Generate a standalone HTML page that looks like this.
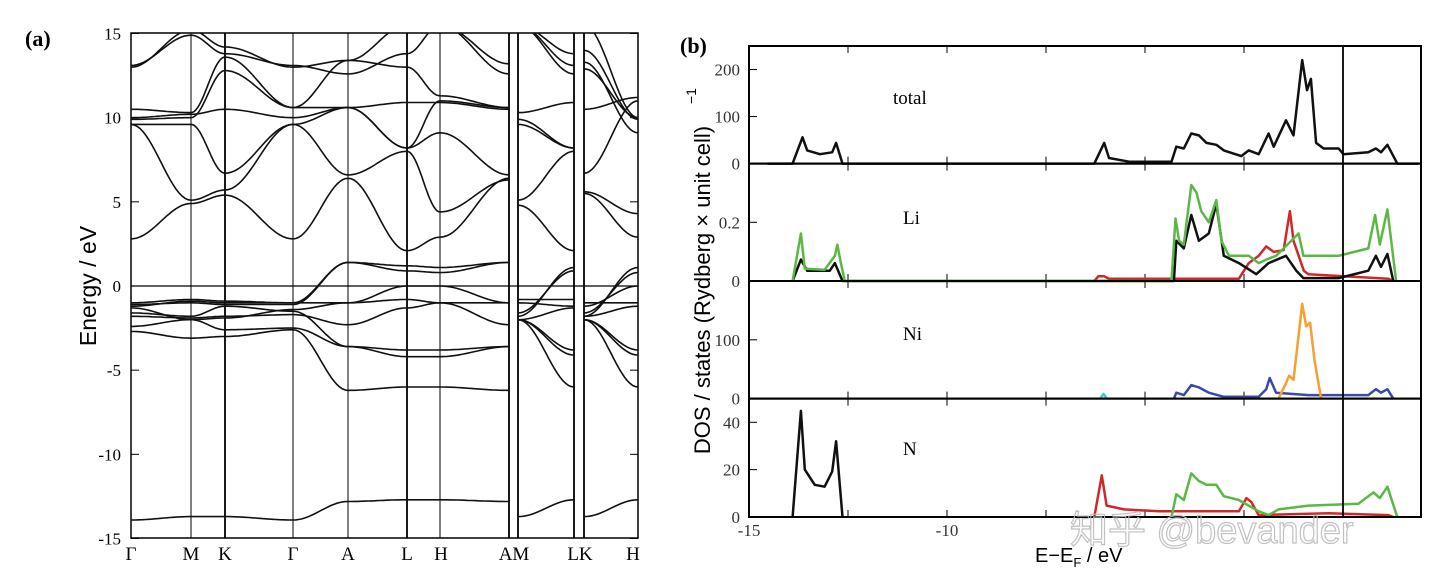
<!DOCTYPE html>
<html><head><meta charset="utf-8">
<style>
html,body{margin:0;padding:0;background:#fff;}
body{width:1440px;height:587px;overflow:hidden;position:relative;}
svg{position:absolute;left:0;top:0;}
text{font-family:"Liberation Serif",serif;}
.sans{font-family:"Liberation Sans","Noto Sans CJK SC",sans-serif;}
</style></head>
<body>
<svg id="fig" width="1440" height="587" viewBox="0 0 1440 587">
<defs>
<clipPath id="clipA"><rect x="131" y="33" width="507" height="505"/></clipPath>
<clipPath id="clipB"><rect x="749" y="46" width="672" height="471"/></clipPath>
</defs>
<g id="panelA"></g>
<g id="panelB"></g>
</svg>
<script>
// ---------- Panel (a) data ----------
const kLabels = ["Γ","M","K","Γ","A","L","H","A"];
const kLabelsML = ["M","L"];
const kLabelsKH = ["K","H"];
const eTicks = [15,10,5,0,-5,-10,-15];
const bandsMain = [
 [-13.9,-13.7,-13.7,-13.9,-12.8,-12.7,-12.7,-12.8],
 [-2.7,-3.1,-3.0,-2.6,-6.2,-6.0,-6.0,-6.2],
 [-2.4,-2.0,-2.6,-2.5,-3.6,-3.8,-3.8,-3.6],
 [-1.6,-1.8,-1.2,-1.5,-3.6,-4.2,-4.2,-3.6],
 [-1.8,-1.9,-1.8,-1.7,-2.3,-1.3,-1.0,-2.3],
 [-1.0,-0.8,-0.9,-1.0,1.4,1.2,1.1,1.4],
 [-1.2,-0.9,-1.0,-1.0,-1.0,-0.8,-1.0,-1.0],
 [-1.1,-1.0,-1.1,-1.1,1.4,0.9,0.8,1.4],
 [-1.3,-2.0,-1.9,-1.4,-1.0,0,0,-1.0],
 [2.8,4.9,5.4,2.8,6.4,2.1,2.9,6.4],
 [9.6,5.1,5.7,9.6,6.6,8.0,4.4,6.3],
 [9.6,9.6,6.7,9.6,10.6,8.2,9.1,6.6],
 [9.9,10.0,12.8,10.6,10.6,8.2,11.0,10.6],
 [10.0,10.2,10.5,10.0,10.6,10.9,10.9,10.5],
 [10.5,10.3,13.6,10.6,13.4,13.0,11.3,10.6],
 [13.1,14.9,13.8,13.1,12.6,13.8,15.5,12.6],
 [13.0,15.2,14.2,13.0,13.4,15.5,15.5,13.2]
];
const bandsML = [[-13.7,-12.7],[-2.0,-6.0],[-2.0,-4.1],[-2.0,-3.8],[-2.0,-1.3],[-1.8,1.1],[-0.8,-0.8],[-1.6,0.9],[-1.0,-1.2],[4.8,2.1],[5.1,8.0],[9.6,8.2],[9.9,8.2],[10.3,10.9],[15.5,12.6],[15.5,13.1],[15.5,13.8]];
const bandsKH = [[-13.7,-12.7],[-2.0,-6.0],[-2.0,-4.1],[-2.0,-3.8],[-1.8,-1.2],[-1.8,1.1],[-1.0,-1.0],[-1.6,0.8],[-1.2,0],[5.5,2.9],[5.6,4.3],[6.7,11.0],[10.5,11.2],[13.3,9.1],[15.5,10.0],[12.9,10.0],[14.0,9.9]];

// ---------- Panel (b) data ----------
const dosXTicks = [-15,-12.5,-10,-7.5,-5,-2.5,0];
const dosXLabels = ["-15","","-10","","","",""];
const totE = [-14.53,-13.90,-13.65,-13.53,-13.21,-12.90,-12.80,-12.64,-6.28,-6.03,-5.91,-5.40,-4.33,-4.21,-4.02,-3.83,-3.64,-3.45,-3.20,-3.01,-2.57,-2.38,-2.13,-1.88,-1.75,-1.44,-1.25,-1.03,-0.91,-0.81,-0.68,-0.49,-0.11,0.01,0.64,0.83,0.96,1.12,1.37,1.9];
const totV = [0,0,56,28,20,24,44,0,0,44,12,4,4,36,32,64,60,44,40,28,16,28,20,64,36,92,60,220,156,180,44,32,32,20,24,32,24,40,0,0];
const liGE = [-13.90,-13.69,-13.59,-13.09,-12.83,-12.77,-12.68,-12.58,-4.33,-4.23,-4.14,-4.02,-3.83,-3.70,-3.58,-3.39,-3.20,-3.07,-2.88,-2.38,-2.13,-1.94,-1.69,-1.50,-1.12,-1.00,-0.62,-0.11,0.64,0.81,0.93,1.12,1.34];
const liGV = [0,0.162,0.042,0.038,0.086,0.124,0.061,0,0,0.213,0.137,0.124,0.327,0.301,0.238,0.2,0.276,0.137,0.086,0.086,0.061,0.073,0.086,0.111,0.162,0.086,0.086,0.086,0.111,0.225,0.124,0.244,0];
const liKE = [-13.90,-13.69,-13.53,-12.96,-12.83,-12.64,-4.27,-4.21,-4.02,-3.83,-3.64,-3.52,-3.39,-3.20,-3.01,-2.63,-2.19,-1.88,-1.44,-1.18,-1.00,-0.11,0.64,0.83,0.96,1.12,1.27];
const liKV = [0,0.073,0.035,0.035,0.061,0,0,0.137,0.111,0.225,0.137,0.149,0.162,0.263,0.086,0.061,0.023,0.061,0.086,0.035,0.01,0.01,0.035,0.086,0.048,0.092,0];
const liRE = [-6.28,-6.18,-6.03,-5.91,-2.63,-2.38,-2.13,-1.94,-1.75,-1.50,-1.34,-1.25,-0.99,-0.87,1.14,1.27];
const liRV = [0,0.016,0.016,0.008,0.008,0.061,0.086,0.118,0.099,0.105,0.238,0.137,0.035,0.023,0.008,0];
const niOE = [-1.63,-1.44,-1.36,-1.25,-1.03,-0.93,-0.83,-0.72,-0.55];
const niOV = [0,26,39,32,161,123,129,65,0];
const niBE = [-4.27,-4.21,-4.02,-3.83,-3.64,-3.39,-3.01,-2.13,-1.94,-1.85,-1.69,-0.87,0.64,0.83,0.96,1.12,1.27];
const niBV = [0,10,6,23,19,10,3,3,16,35,10,6,6,16,10,16,0];
const niCE = [-6.13,-6.05,-5.96];
const niCV = [0,8,0];
const nKE = [-13.90,-13.69,-13.59,-13.34,-13.09,-12.90,-12.80,-12.64];
const nKV = [0,44.8,20,13.6,12.8,19.2,32,0];
const nRE = [-6.28,-6.09,-5.97,-5.53,-4.65,-3.39,-2.63,-2.44,-2.32,-2.13,-0.37,1.14,1.27];
const nRV = [0,17.6,4.8,3.2,2.4,2.4,2.4,8,6.4,0.8,1.6,0.8,0];
const nGE = [-4.33,-4.21,-4.02,-3.83,-3.64,-3.45,-3.20,-3.01,-2.63,-2.13,-1.88,-1.63,-0.87,0.39,0.77,0.93,1.12,1.37];
const nGV = [0,9.6,7.2,18.4,15.2,13.6,13.6,8.8,7.2,2.4,0.8,3.2,4.8,5.6,10.4,8,12.8,0];

const NS="http://www.w3.org/2000/svg";
function mk(parent,tag,attrs,txt){const e=document.createElementNS(NS,tag);for(const k in attrs)e.setAttribute(k,attrs[k]);if(txt!==undefined)e.textContent=txt;parent.appendChild(e);return e;}

// ---------- draw (a) ----------
const A=document.getElementById('panelA');
const ax0=131,ax1=638,ay0=33,ay1=538;
const yE=e=>286-e*(ay1-ay0)/30;
const mainX=[131,191,225,293,348,407,440,509];
const mlX=[518,574], khX=[584,638];
const lab=mk(A,'text',{x:25,y:46,'font-size':22,'font-weight':'bold'},'(a)');


const yt=mk(A,'text',{x:96,y:286,'font-size':23,'text-anchor':'middle',class:'sans',transform:'rotate(-90 96 286)'},'Energy / eV');


eTicks.forEach(t=>{
  const tl=mk(A,'text',{x:121,y:yE(t)+6,'font-size':17,'text-anchor':'end'},String(t));
  
  
  mk(A,'line',{x1:ax0,x2:ax0+8,y1:yE(t),y2:yE(t),stroke:'#000','stroke-width':1});
  mk(A,'line',{x1:ax1-8,x2:ax1,y1:yE(t),y2:yE(t),stroke:'#000','stroke-width':1});
});
const frameA=mk(A,'rect',{x:ax0,y:ay0,width:ax1-ax0,height:ay1-ay0,fill:'none',stroke:'#000','stroke-width':1.5});


const vx=[...mainX.slice(1),...mlX,...khX.slice(0,1)];
vx.forEach((x,i)=>{const l=mk(A,'line',{x1:x,x2:x,y1:ay0,y2:ay1,stroke:'#000','stroke-width':(x===225||x===407||x>=509)?1.8:1});
  
  });
const fermi=mk(A,'line',{x1:ax0,x2:ax1,y1:yE(0),y2:yE(0),stroke:'#000','stroke-width':1.3});


const klabPos=[[131,'Γ'],[191,'M'],[225,'K'],[293,'Γ'],[348,'A'],[407,'L'],[441,'H'],[514,'AM'],[580,'LK'],[633,'H']];
klabPos.forEach(p=>{const t=mk(A,'text',{x:p[0],y:560,'font-size':19,'text-anchor':'middle'},p[1]);
  
  });
const bg=mk(A,'g',{'clip-path':'url(#clipA)'});
function bandPath(xs,vals){let d='';for(let s=0;s<xs.length-1;s++){const N=20;for(let j=0;j<=N;j++){if(s>0&&j===0)continue;const t=j/N;const w=(1-Math.cos(Math.PI*t))/2;const x=xs[s]+(xs[s+1]-xs[s])*t;const e=vals[s]+(vals[s+1]-vals[s])*w;d+=(d?'L':'M')+x.toFixed(1)+','+yE(e).toFixed(1);}}return d;}
[[mainX,bandsMain],[mlX,bandsML],[khX,bandsKH]].forEach(([xs,bs])=>bs.forEach(b=>{
  const p=mk(bg,'path',{d:bandPath(xs,b),fill:'none',stroke:'#111','stroke-width':1.6});
  
  
}));

// ---------- draw (b) ----------
const B=document.getElementById('panelB');
const bx0=749,bx1=1421;
const xE=e=>1343+e*39.6;
const panels=[
 {name:'total',top:46,bot:163.6,max:250,ticks:[[0,'0'],[100,'100'],[200,'200']],lx:893,ly:104,series:[[totE,totV,'#111']]},
 {name:'Li',top:163.6,bot:281,max:0.4,ticks:[[0,'0'],[0.2,'0.2']],lx:903,ly:224,series:[[liRE,liRV,'#d02828'],[liKE,liKV,'#111'],[liGE,liGV,'#5cb846']]},
 {name:'Ni',top:281,bot:398.6,max:200,ticks:[[0,'0'],[100,'100']],lx:903,ly:340,series:[[niCE,niCV,'#40c8e0'],[niBE,niBV,'#3949ab'],[niOE,niOV,'#f5a030']]},
 {name:'N',top:398.6,bot:517,max:50,ticks:[[0,'0'],[20,'20'],[40,'40']],lx:903,ly:455,series:[[nKE,nKV,'#111'],[nRE,nRV,'#d02828'],[nGE,nGV,'#5cb846']]}
];
const lb=mk(B,'text',{x:680,y:53,'font-size':22,'font-weight':'bold'},'(b)');


panels.forEach(P=>{
  const yv=v=>P.bot-v/P.max*(P.bot-P.top);
  const g=mk(B,'g',{});
  
  
  P.ticks.forEach(t=>{
    const tl=mk(g,'text',{x:740,y:yv(t[0])+6,'font-size':17,'text-anchor':'end',fill:'#333'},t[1]);
    
    
    mk(g,'line',{x1:bx0,x2:bx0+8,y1:yv(t[0]),y2:yv(t[0]),stroke:'#000'});
  });
  dosXTicks.forEach(t=>{mk(g,'line',{x1:xE(t),x2:xE(t),y1:P.bot,y2:P.bot-7,stroke:'#000'});mk(g,'line',{x1:xE(t),x2:xE(t),y1:P.top,y2:P.top+7,stroke:'#000'});});
  const cg=mk(g,'g',{'clip-path':'url(#clipB)'});
  mk(cg,'line',{x1:bx0,x2:bx1,y1:P.bot,y2:P.bot,stroke:'#5cb846','stroke-width':2});
  P.series.forEach(s=>{
    const d=s[0].map((e,i)=>(i?'L':'M')+xE(e).toFixed(1)+','+yv(s[1][i]).toFixed(1)).join('');
    const p=mk(cg,'path',{d:d,fill:'none',stroke:s[2],'stroke-width':2.5,'stroke-linejoin':'round'});
    
    
  });
  const r=mk(g,'rect',{x:bx0,y:P.top,width:bx1-bx0,height:P.bot-P.top,fill:'none',stroke:'#000','stroke-width':2});
  
  
  const t=mk(g,'text',{x:P.lx,y:P.ly,'font-size':19},P.name);
  
  
});
const ef=mk(B,'line',{x1:xE(0),x2:xE(0),y1:46,y2:517,stroke:'#000','stroke-width':1.8});


dosXTicks.forEach((t,i)=>{if(!dosXLabels[i])return;
  const tl=mk(B,'text',{x:xE(t),y:536,'font-size':17,'text-anchor':'middle',fill:'#333'},dosXLabels[i]);
  
  });
const yT=mk(B,'text',{x:710,y:290,'font-size':22,'text-anchor':'middle',class:'sans',transform:'rotate(-90 710 290)'},'DOS / states (Rydberg × unit cell)');


const sup=mk(B,'text',{x:696,y:104,'font-size':14,class:'sans',transform:'rotate(-90 696 104)'},'−1');


const xT=mk(B,'text',{x:1035,y:562,'font-size':20,class:'sans'},'');


mk(xT,'tspan',{},'E−E');mk(xT,'tspan',{'font-size':13,dy:5},'F');mk(xT,'tspan',{dy:-5},' / eV');
const wm=mk(B,'text',{x:1070,y:543,'font-size':38,class:'sans',fill:'none',stroke:'#bbb','stroke-width':1.2,opacity:0.9},'知乎 @bevander');


</script>
</body></html>
